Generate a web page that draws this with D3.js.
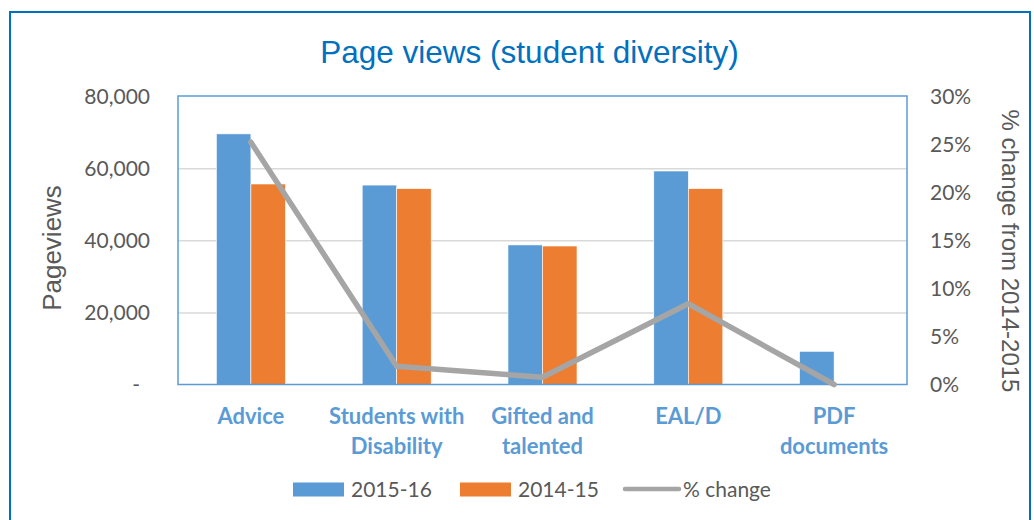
<!DOCTYPE html>
<meta charset="utf-8">
<style type="text/css">
body { margin: 0; background: #fff; }
svg text { font-family: Lato, "Liberation Sans", sans-serif; }
.g-title { font-family: "Liberation Sans", Arial, sans-serif !important; font-size: 31.5px; fill: #0070c0; }
.g-axis-title { font-family: "Liberation Sans", Arial, sans-serif !important; fill: #595959; }
.tick-label { font-size: 21px; fill: #595959; }
.cat-label { font-size: 22px; font-weight: bold; fill: #5b9bd5; }
.legend-label { font-size: 21px; fill: #595959; }
</style>
<body>
<div class="g-chart"></div>
<script src="https://cdnjs.cloudflare.com/ajax/libs/d3/7.8.5/d3.min.js"></script>
<script type="text/javascript">

// chart values
var categories = ["Advice", "Students with Disability", "Gifted and talented", "EAL/D", "PDF documents"];
var categoryLines = [["Advice"], ["Students with", "Disability"], ["Gifted and", "talented"], ["EAL/D"], ["PDF", "documents"]];
var series = ["2015-16", "2014-15"];
var views1516 = [69500, 55300, 38700, 59200, 9200];
var views1415 = [55600, 54300, 38400, 54300, 0];
var pctChange = [25.2, 1.9, 0.75, 8.4, 0];
var leftTicks = [0, 20000, 40000, 60000, 80000];
var rightTicks = [0, 5, 10, 15, 20, 25, 30];

var colors = {"2015-16": "#5b9bd5", "2014-15": "#ed7d31", line: "#a5a5a5"};

var width = 1034, height = 520;
var plot = {left: 178, right: 907, top: 96, bottom: 384.5};

var svg = d3.select(".g-chart").append("svg")
  .attr("width", width)
  .attr("height", height);

// outer frame
svg.append("rect")
  .attr("x", 10).attr("y", 12)
  .attr("width", 1020).attr("height", 530)
  .attr("fill", "none")
  .attr("stroke", "#0070c0")
  .attr("stroke-width", 2);

svg.append("text")
  .attr("class", "g-title")
  .attr("x", 529.5).attr("y", 62.5)
  .attr("text-anchor", "middle")
  .text("Page views (student diversity)");

//Scales
var x0 = d3.scaleBand()
  .domain(categories)
  .range([plot.left, plot.right])
  .padding(0);

var x1 = d3.scaleBand()
  .domain(series)
  .range([0, x0.bandwidth()])
  .paddingInner(0)
  .paddingOuter(1.113);

var y = d3.scaleLinear().domain([0, 80000]).range([plot.bottom, plot.top]);
var yPct = d3.scaleLinear().domain([0, 30]).range([plot.bottom, plot.top]);

// gridlines
svg.append("g")
  .attr("transform", "translate(" + plot.left + ",0)")
  .call(d3.axisLeft(y).tickValues(leftTicks.slice(1, 4)).tickSize(-(plot.right - plot.left)).tickFormat(""))
  .call(function(g) {
    g.select(".domain").remove();
    g.selectAll("line").attr("stroke", "#d9d9d9").attr("stroke-width", 1.5);
  });

// left axis labels
svg.append("g")
  .attr("transform", "translate(150,0)")
  .call(d3.axisLeft(y).tickValues(leftTicks).tickSize(0).tickPadding(0)
    .tickFormat(function(d) { return d === 0 ? "-" : d3.format(",")(d); }))
  .call(function(g) {
    g.select(".domain").remove();
    g.selectAll("text").attr("class", "tick-label").attr("font-size", null).attr("fill", null)
      .attr("dy", "0.35em")
      .attr("dx", function(d) { return d === 0 ? -10 : 0; });
  });

// right axis labels
svg.append("g")
  .attr("transform", "translate(930,0)")
  .call(d3.axisRight(yPct).tickValues(rightTicks).tickSize(0).tickPadding(0)
    .tickFormat(function(d) { return d + "%"; }))
  .call(function(g) {
    g.select(".domain").remove();
    g.selectAll("text").attr("class", "tick-label").attr("font-size", null).attr("fill", null)
      .attr("dy", "0.35em");
  });

// axis titles
svg.append("text")
  .attr("class", "g-axis-title")
  .attr("transform", "translate(61,248) rotate(-90)")
  .attr("text-anchor", "middle")
  .attr("font-size", 26)
  .text("Pageviews");

svg.append("text")
  .attr("class", "g-axis-title")
  .attr("transform", "translate(1002,251) rotate(90)")
  .attr("text-anchor", "middle")
  .attr("font-size", 24)
  .text("% change from 2014-2015");

// bars
var rows = categories.map(function(c, i) {
  return {cat: c, values: [{key: "2015-16", value: views1516[i]}, {key: "2014-15", value: views1415[i]}]};
});

svg.append("g").selectAll("g")
  .data(rows)
  .enter().append("g")
  .attr("transform", function(d) { return "translate(" + x0(d.cat) + ",0)"; })
  .selectAll("rect")
  .data(function(d) { return d.values; })
  .enter().append("rect")
  .attr("x", function(d) { return x1(d.key); })
  .attr("y", function(d) { return y(d.value); })
  .attr("width", x1.bandwidth())
  .attr("height", function(d) { return y(0) - y(d.value); })
  .attr("fill", function(d) { return colors[d.key]; })
  .attr("stroke", "#fff")
  .attr("stroke-width", 0.6);

// plot area border
svg.append("rect")
  .attr("x", plot.left).attr("y", plot.top)
  .attr("width", plot.right - plot.left).attr("height", plot.bottom - plot.top)
  .attr("fill", "none")
  .attr("stroke", "#5b9bd5")
  .attr("stroke-width", 1.5);

// % change line
var line = d3.line()
  .x(function(d, i) { return x0(categories[i]) + x0.bandwidth() / 2; })
  .y(function(d) { return yPct(d); });

svg.append("path")
  .datum(pctChange)
  .attr("d", line)
  .attr("fill", "none")
  .attr("stroke", colors.line)
  .attr("stroke-width", 5.5)
  .attr("stroke-linejoin", "round")
  .attr("stroke-linecap", "round");

// category labels
svg.append("g").selectAll("text")
  .data(categories)
  .enter().append("text")
  .attr("class", "cat-label")
  .attr("text-anchor", "middle")
  .attr("x", function(d) { return x0(d) + x0.bandwidth() / 2; })
  .attr("y", 424)
  .each(function(d, i) {
    var t = d3.select(this);
    categoryLines[i].forEach(function(s, j) {
      t.append("tspan")
        .attr("x", x0(d) + x0.bandwidth() / 2)
        .attr("dy", j === 0 ? 0 : 30)
        .text(s);
    });
  });

// legend
var legend = svg.append("g");
var legendItems = [
  {label: "2015-16", type: "bar", color: colors["2015-16"], x: 293},
  {label: "2014-15", type: "bar", color: colors["2014-15"], x: 460},
  {label: "% change", type: "line", color: colors.line, x: 625}
];
legendItems.forEach(function(d) {
  if (d.type === "bar") {
    legend.append("rect")
      .attr("x", d.x).attr("y", 482.5)
      .attr("width", 51).attr("height", 14)
      .attr("fill", d.color);
    legend.append("text").attr("class", "legend-label")
      .attr("x", d.x + 58).attr("y", 489.5).attr("dy", "0.35em")
      .text(d.label);
  } else {
    legend.append("line")
      .attr("x1", d.x).attr("x2", d.x + 54)
      .attr("y1", 489).attr("y2", 489)
      .attr("stroke", d.color)
      .attr("stroke-width", 4.5)
      .attr("stroke-linecap", "round");
    legend.append("text").attr("class", "legend-label")
      .attr("x", d.x + 58).attr("y", 489.5).attr("dy", "0.35em")
      .text(d.label);
  }
});

</script>
</body>
